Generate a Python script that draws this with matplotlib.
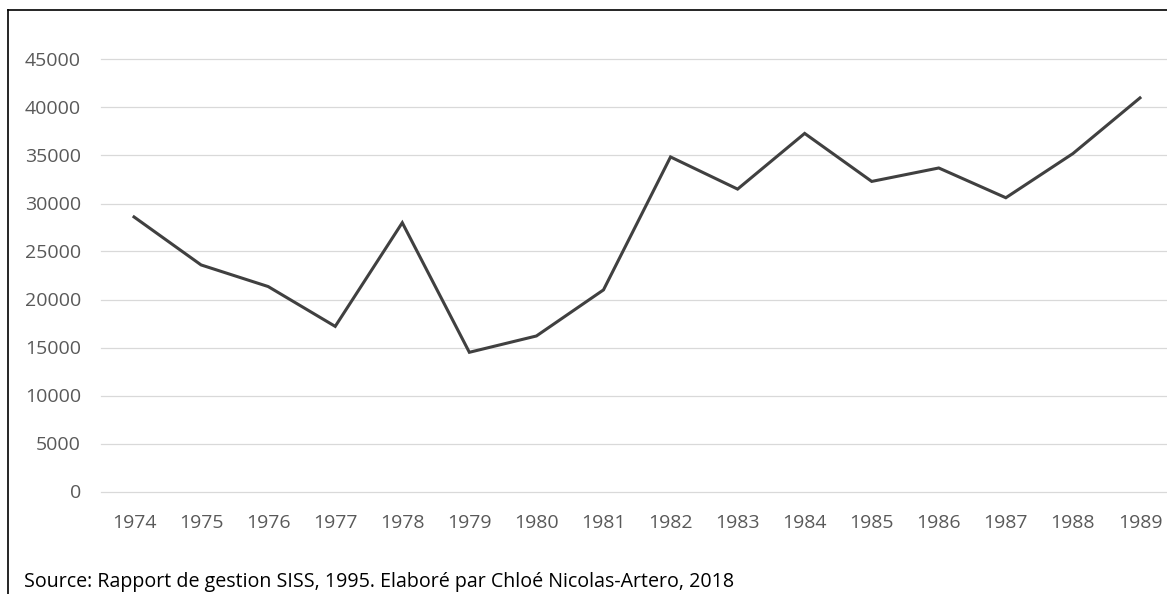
import matplotlib
matplotlib.use("Agg")
import matplotlib.pyplot as plt
from matplotlib.lines import Line2D

# données
annees = ["1974", "1975", "1976", "1977", "1978", "1979", "1980", "1981",
          "1982", "1983", "1984", "1985", "1986", "1987", "1988", "1989"]
valeurs = [28600, 23600, 21350, 17200, 28000, 14500, 16200, 21000,
           34850, 31500, 37300, 32300, 33700, 30600, 35200, 41000]
yticks = [0, 5000, 10000, 15000, 20000, 25000, 30000, 35000, 40000, 45000]
source = "Source: Rapport de gestion SISS, 1995. Elaboré par Chloé Nicolas-Artero, 2018"

plt.rcParams['font.family'] = ['Open Sans', 'DejaVu Sans']

W, H = 1167, 594
fig = plt.figure(figsize=(W / 100, H / 100), dpi=100)
ax = fig.add_axes([100.5 / W, (H - 491.5) / H, 1073 / W, 432 / H])

x = range(len(annees))
ax.plot(x, valeurs, color='#404040', lw=2.2, solid_joinstyle='miter')

ax.set_xlim(-0.5, len(annees) - 0.5)
ax.set_ylim(0, 45000)
ax.set_yticks(yticks)
ax.set_yticklabels([str(v) for v in yticks])
ax.set_xticks(list(x))
ax.set_xticklabels(annees)
ax.grid(axis='y', color='#d9d9d9', lw=0.9)
for gl in ax.get_ygridlines():
    gl.set_clip_on(False)
ax.set_axisbelow(True)
for s in ax.spines.values():
    s.set_visible(False)
ax.tick_params(axis='both', length=0, labelsize=14, labelcolor='#595959')
ax.tick_params(axis='y', pad=14)
ax.tick_params(axis='x', pad=16)

# cadre (haut et gauche)
fig.add_artist(Line2D([8 / W, 8 / W], [0, 1 - 10 / H], transform=fig.transFigure,
                      color='black', lw=1.2))
fig.add_artist(Line2D([8 / W, 1], [1 - 10 / H, 1 - 10 / H], transform=fig.transFigure,
                      color='black', lw=1.2))

fig.text(24 / W, 1 - 582 / H, source, fontsize=14.1, color='black',
         ha='left', va='center')

fig.savefig("out.png", dpi=100)
